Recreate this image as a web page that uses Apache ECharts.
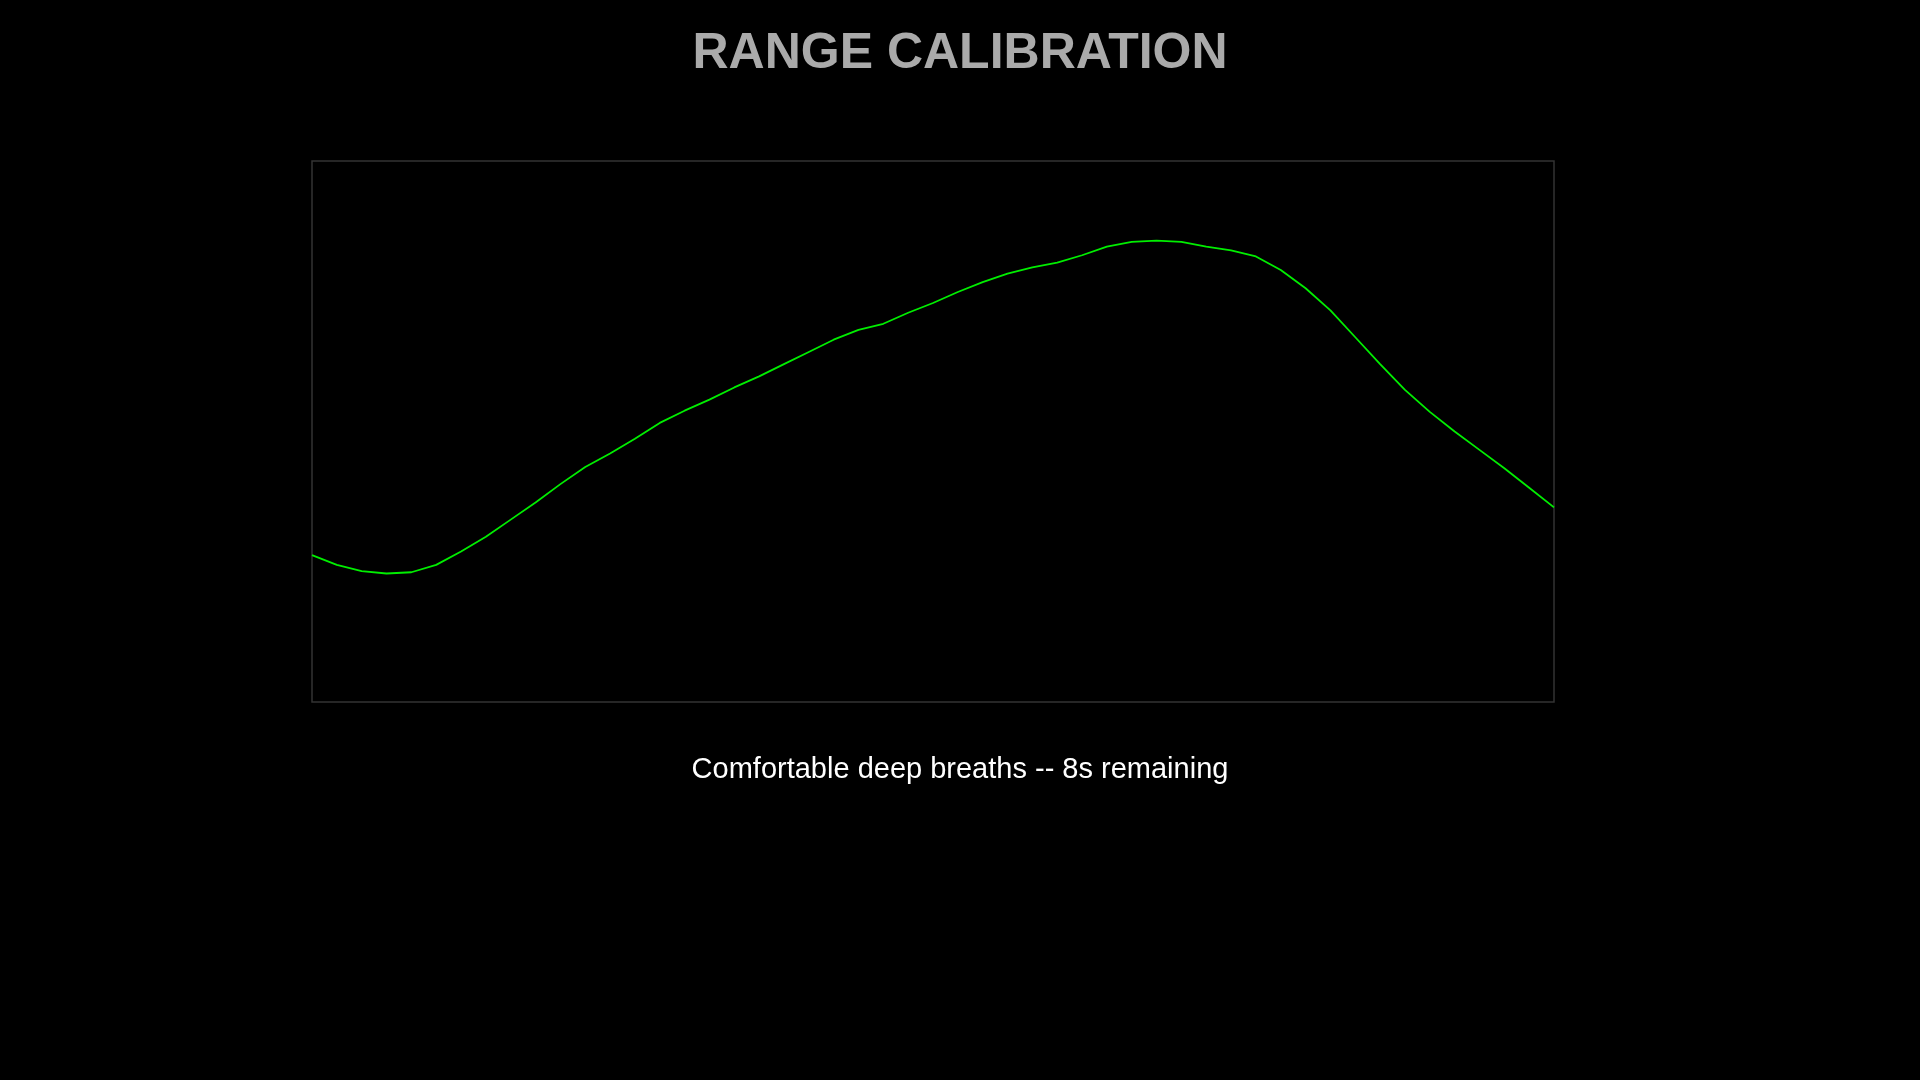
<!DOCTYPE html>
<html><head><meta charset="utf-8">
<script src="https://cdn.jsdelivr.net/npm/echarts@6/dist/echarts.min.js"></script>
<style>html,body{margin:0;background:#000}#c{width:1920px;height:1080px}</style>
</head><body><div id="c"></div>
<script>
const titleText = "RANGE CALIBRATION";
const subText = "Comfortable deep breaths -- 8s remaining";
const breathValues = [120,112,107,105,106,112,123,135,149,163,178,192,203,215,228,238,247,257,266,276,286,296,304,309,318,326,335,343,350,355,359,365,372,376,377,376,372,369,364,353,338,320,298,276,255,237,221,206,191,175,159];
const xCategories = breathValues.map((_, i) => String(i));
const chart = echarts.init(document.getElementById('c'));
chart.setOption({
  backgroundColor: '#000',
  animation: false,
  title: [
    {text: titleText, left: 'center', top: 24, textStyle: {color: '#aaaaaa', fontSize: 50, fontWeight: 'bold', fontFamily: 'Liberation Sans, Arial'}},
    {text: subText, left: 'center', top: 750, textStyle: {color: '#ffffff', fontSize: 29, fontWeight: 'normal', fontFamily: 'Liberation Sans, Arial'}}
  ],
  grid: {left: 312, right: 366, top: 161, height: 541, show: true, borderColor: '#333', borderWidth: 1.5, backgroundColor: '#000'},
  xAxis: {type: 'category', data: xCategories, boundaryGap: false, show: false},
  yAxis: {type: 'value', min: 0, max: 442, show: false},
  series: [{type: 'line', data: breathValues, showSymbol: false, lineStyle: {color: '#00ee00', width: 1.8}}]
});
</script></body></html>
